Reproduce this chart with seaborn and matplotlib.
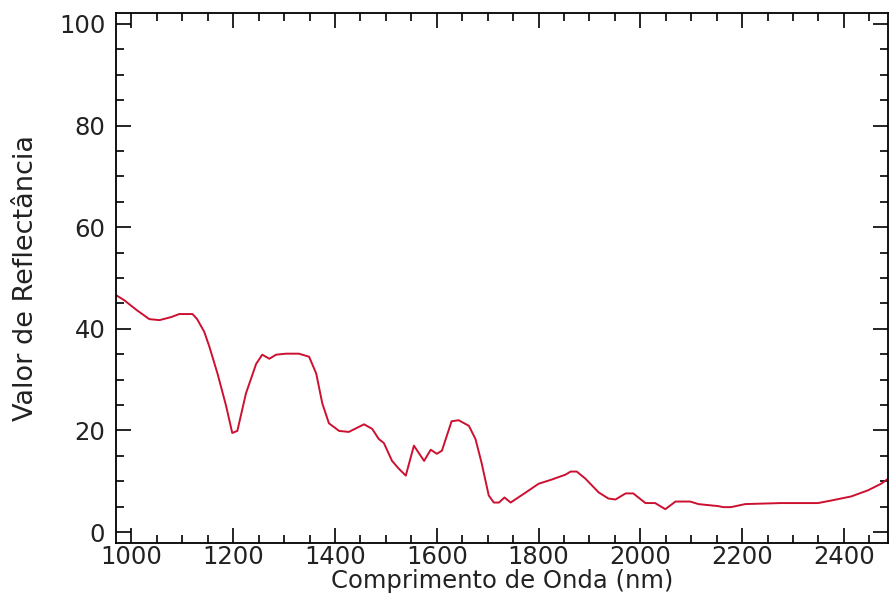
import matplotlib
matplotlib.use("Agg")
import matplotlib.pyplot as plt
from matplotlib.ticker import MultipleLocator
import seaborn as sns
import pandas as pd

wavelength = [970, 986, 1010, 1035, 1055, 1078, 1094, 1120, 1129, 1143, 1153, 1169, 1186, 1198, 1208,
              1225, 1245, 1257, 1271, 1284, 1304, 1329, 1349, 1363, 1375, 1388, 1408,
              1427, 1457, 1473, 1486, 1496, 1512, 1525, 1539, 1555, 1575, 1588, 1600,
              1610, 1629, 1643, 1663, 1676, 1688, 1702, 1712, 1722, 1733, 1745, 1757,
              1775, 1800, 1825, 1853, 1863, 1875, 1892, 1918, 1937, 1951, 1971, 1986,
              2010, 2029, 2049, 2069, 2098, 2114, 2133, 2153, 2163, 2178, 2206, 2276,
              2349, 2375, 2414, 2447, 2473, 2487]
reflectance = [46.6, 45.6, 43.7, 41.9, 41.7, 42.3, 42.9, 42.9, 41.9, 39.4, 36.5, 31.2, 24.8, 19.5, 19.9,
               27.3, 33.1, 34.9, 34.1, 34.9, 35.1, 35.1, 34.5, 31.2, 25.3, 21.4, 19.9,
               19.7, 21.2, 20.3, 18.3, 17.5, 14.0, 12.5, 11.1, 17.0, 14.0, 16.2, 15.4,
               16.0, 21.8, 22.0, 20.9, 18.3, 13.6, 7.2, 5.8, 5.8, 6.8, 5.8, 6.6,
               7.8, 9.5, 10.3, 11.3, 11.9, 11.9, 10.5, 7.8, 6.6, 6.4, 7.6, 7.6,
               5.7, 5.7, 4.5, 6.0, 6.0, 5.5, 5.3, 5.1, 4.9, 4.9, 5.5, 5.7,
               5.7, 6.2, 7.0, 8.2, 9.5, 10.5]
x_ticks = [1000, 1200, 1400, 1600, 1800, 2000, 2200, 2400]
y_ticks = [0, 20, 40, 60, 80, 100]

df = pd.DataFrame({"wl": wavelength, "r": reflectance})

sns.set_style("ticks")
plt.rcParams["font.family"] = ["DejaVu Sans"]

fig = plt.figure(figsize=(8.9, 6.01), dpi=100)
ax = fig.add_axes([0.130, 0.097, 0.868, 0.881])
sns.lineplot(data=df, x="wl", y="r", ax=ax, color="#cc1030", linewidth=1.4)

ax.set_xlim(969, 2487)
ax.set_ylim(-2.1, 102.1)
ax.set_xticks(x_ticks)
ax.set_yticks(y_ticks)
ax.xaxis.set_minor_locator(MultipleLocator(50))
ax.yaxis.set_minor_locator(MultipleLocator(5))
ax.tick_params(which="both", direction="in", top=True, right=True,
               color="black", width=1.2, labelsize=17.5, labelcolor="#222222")
ax.tick_params(which="major", length=11)
ax.tick_params(axis="y", which="major", pad=7.5)
ax.tick_params(axis="x", which="major", pad=2)
ax.tick_params(which="minor", length=6)
for s in ax.spines.values():
    s.set_color("black")
    s.set_linewidth(1.3)

ax.set_xlabel("Comprimento de Onda (nm)", fontsize=17.5, labelpad=0, color="#222222")
ax.set_ylabel("Valor de Reflectância", fontsize=19.5, labelpad=14, color="#222222")

fig.savefig("out.png", dpi=100)
